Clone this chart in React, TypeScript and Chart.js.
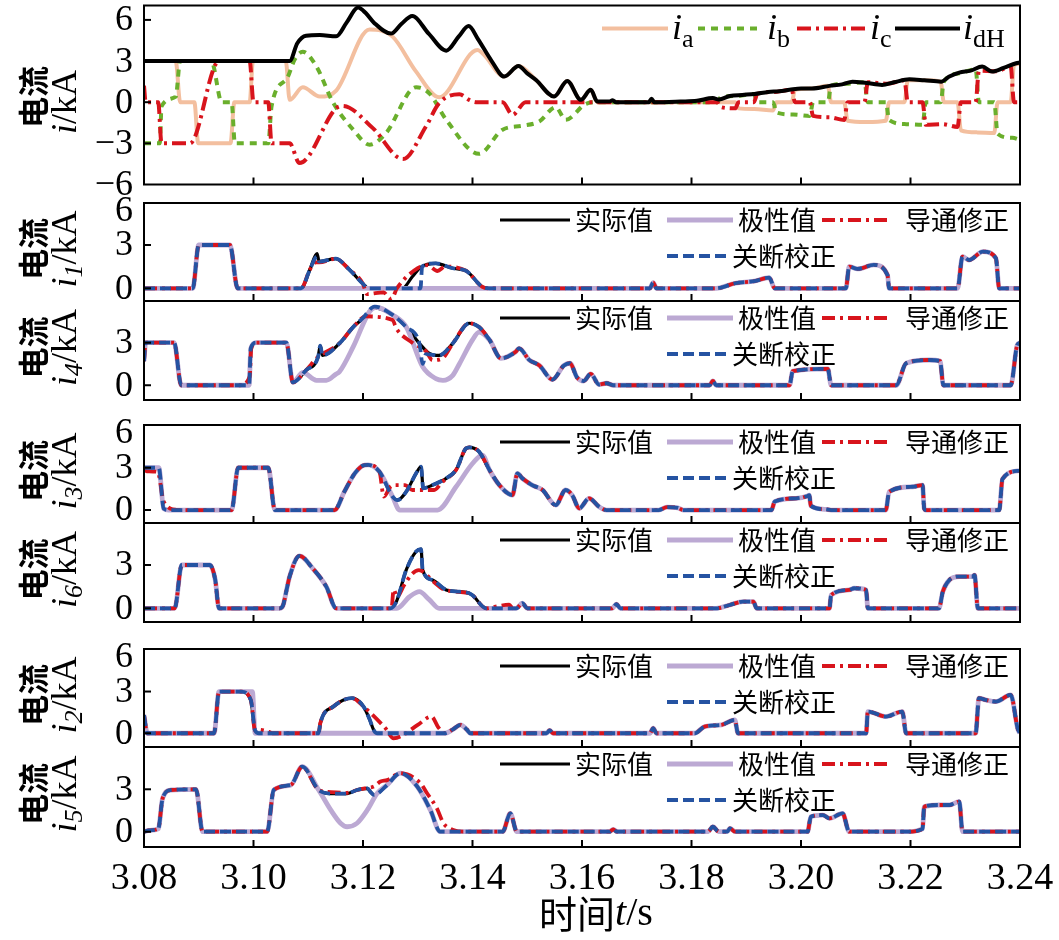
import React, { useEffect, useRef } from "react";
import { Chart, registerables } from "chart.js";
Chart.register(...registerables);

type Pt = [number, number];

const SERIF = '"Liberation Serif", "Times New Roman", serif';
const CJK = '"Noto Sans CJK SC", sans-serif';

// ---------- axis ----------
const xTicks = [3.08, 3.1, 3.12, 3.14, 3.16, 3.18, 3.2, 3.22, 3.24];
const xTickLabels = ["3.08", "3.10", "3.12", "3.14", "3.16", "3.18", "3.20", "3.22", "3.24"];
const topYTicks = [6, 3, 0, -3, -6];
const topYTickLabels = ["6", "3", "0", "\u22123", "\u22126"];
const yTicksFull = [6, 3, 0];
const yTicksShort = [3, 0];

// ---------- top panel: ia, ib, ic, idH ----------
const iaData: Pt[] = [[3.08,3],[3.0858,3],[3.0866,0],[3.0892,0],[3.0899,-3],[3.0958,-3],[3.0965,0],[3.0993,0],[3.0999,3],[3.1059,3],[3.1066,0.17],[3.109,1.09],[3.1121,0.41],[3.1151,0.85],[3.1212,5.3],[3.1254,4.78],[3.1297,2.23],[3.1339,0.36],[3.1409,3.8],[3.142,3.5],[3.1458,1.87],[3.1484,2.64],[3.1516,1.62],[3.1549,0.41],[3.1573,1.55],[3.1598,0.17],[3.1616,0.9],[3.1628,0],[3.188,0],[3.1886,-0.45],[3.1915,-0.5],[3.1949,-0.6],[3.1955,0],[3.1983,0],[3.1989,0.9],[3.2019,1.0],[3.2049,1.2],[3.2055,0],[3.2079,0],[3.2085,-1.35],[3.2119,-1.45],[3.2155,-1.35],[3.2161,0],[3.2189,0],[3.2195,1.6],[3.2225,1.6],[3.2255,1.5],[3.2261,0],[3.2286,0],[3.2292,-2.05],[3.2322,-2.2],[3.2353,-2.25],[3.2359,0],[3.2383,0],[3.2389,2.7],[3.24,2.8]];
const ibData: Pt[] = [[3.08,-3],[3.0829,-3],[3.0832,-0.3],[3.0858,0.4],[3.0866,3],[3.0923,3],[3.0942,0],[3.096,0],[3.0966,-3],[3.1027,-3],[3.1033,-0.3],[3.1062,1.8],[3.1075,3.1],[3.109,3.68],[3.1115,2.6],[3.1145,0],[3.1182,-2.0],[3.1212,-3.1],[3.1242,-2.25],[3.1297,1.09],[3.1321,0.65],[3.1352,-1.28],[3.1412,-3.76],[3.1455,-2.0],[3.1491,-1.72],[3.1522,-1.4],[3.1552,-0.36],[3.157,-1.28],[3.1607,-0.12],[3.1628,0],[3.1847,0],[3.1853,0.35],[3.1883,0.45],[3.1914,0.6],[3.192,0],[3.1949,0],[3.1955,-0.75],[3.1986,-0.9],[3.2016,-1.0],[3.2022,0],[3.2049,0],[3.2055,1.2],[3.2082,1.35],[3.2116,1.45],[3.2122,0],[3.2155,0],[3.2161,-1.3],[3.2192,-1.6],[3.2222,-1.65],[3.2228,0],[3.2255,0],[3.2261,1.5],[3.2289,2.1],[3.2319,2.4],[3.2325,0],[3.2353,0],[3.2359,-2.3],[3.2386,-2.6],[3.24,-2.75]];
const icData: Pt[] = [[3.08,1.2],[3.0803,0],[3.0826,0],[3.0832,-3],[3.0884,-3],[3.0937,3],[3.0993,3],[3.1,0],[3.1027,0],[3.1033,-3],[3.1066,-3],[3.1084,-4.44],[3.1151,-0.44],[3.1163,-0.27],[3.1218,-1.89],[3.1273,-4.15],[3.1315,-1.77],[3.1339,-0.07],[3.1376,0.58],[3.1394,0.17],[3.1406,0],[3.1455,0],[3.1473,-0.92],[3.1497,0],[3.1847,0],[3.1853,-0.35],[3.188,-0.45],[3.1886,0],[3.1914,0],[3.192,0.6],[3.1952,0.75],[3.1983,0.9],[3.1989,0],[3.2016,0],[3.2022,-1.0],[3.2052,-1.1],[3.2079,-1.3],[3.2085,0],[3.2116,0],[3.2122,1.45],[3.2158,1.35],[3.2189,1.6],[3.2195,0],[3.2222,0],[3.2228,-1.65],[3.2258,-1.6],[3.2286,-1.8],[3.2292,0],[3.2319,0],[3.2325,2.3],[3.2356,2.25],[3.2383,2.6],[3.2389,0],[3.24,0]];
const idHData: Pt[] = [[3.08,3],[3.1066,3],[3.108,4.3],[3.1096,4.85],[3.1121,4.9],[3.1151,4.8],[3.117,5.8],[3.1191,6.9],[3.1205,6.5],[3.122,5.8],[3.1251,5.0],[3.127,5.7],[3.129,6.28],[3.132,5.0],[3.1352,3.76],[3.1375,4.8],[3.1393,5.55],[3.141,4.6],[3.1435,3.0],[3.1458,1.87],[3.1484,2.64],[3.15,2.1],[3.1516,1.62],[3.1549,0.41],[3.1573,1.55],[3.1598,0.17],[3.1616,0.9],[3.1628,0.05],[3.165,0.05],[3.1656,0.15],[3.1662,0],[3.1722,0],[3.1727,0.25],[3.1732,0],[3.178,0.05],[3.181,0.1],[3.1839,0.3],[3.185,0.2],[3.187,0.45],[3.1893,0.53],[3.1915,0.6],[3.194,0.75],[3.196,0.8],[3.1979,0.9],[3.2,1.0],[3.202,1.0],[3.2052,1.19],[3.2075,1.3],[3.2094,1.5],[3.212,1.4],[3.2148,1.26],[3.217,1.45],[3.2198,1.67],[3.2225,1.6],[3.2256,1.5],[3.227,1.85],[3.2289,2.16],[3.231,2.3],[3.2331,2.6],[3.2349,2.23],[3.237,2.5],[3.2393,2.84],[3.24,2.9]];

// ---------- i1 ----------
const i1Head: Pt[] = [[3.08,0],[3.0889,0],[3.09,3],[3.0957,3],[3.0971,0],[3.1087,0]];
const i1ActMid: Pt[] = [[3.1103,1.3],[3.1116,2.4],[3.112,1.85],[3.115,2.05],[3.1175,1.3],[3.12,0.3],[3.121,0],[3.1272,0],[3.129,0.8],[3.1305,1.45],[3.1333,1.73],[3.1364,1.39],[3.1388,1.22],[3.1418,0.1]];
const i1OnMid: Pt[] = [[3.1103,1.3],[3.1114,1.8],[3.112,1.8],[3.115,2.05],[3.1175,1.3],[3.12,0.3],[3.1207,-0.4],[3.1238,-0.28],[3.1244,-0.5],[3.1252,-0.75],[3.1262,0],[3.13,1.4],[3.1318,1.6],[3.1336,1.2],[3.135,1.5],[3.1388,1.22],[3.1418,0.1]];
const i1OffMid: Pt[] = [[3.1103,1.3],[3.1116,2.2],[3.112,1.85],[3.115,2.05],[3.1175,1.3],[3.12,0.3],[3.121,0],[3.1305,0],[3.1308,1.5],[3.1333,1.73],[3.1364,1.39],[3.1388,1.22],[3.1418,0.1]];
const i1Tail: Pt[] = [[3.1431,0],[3.1724,0],[3.173,0.4],[3.1736,0],[3.1845,0],[3.188,0.35],[3.1915,0.5],[3.1942,0.74],[3.1952,0],[3.2082,0],[3.2088,1.5],[3.2103,1.34],[3.2133,1.62],[3.2158,0.92],[3.2161,0],[3.2286,0],[3.2295,2.2],[3.2307,1.96],[3.2332,2.54],[3.2356,2.08],[3.2362,0],[3.24,0]];

// ---------- i4 ----------
const i4Head: Pt[] = [[3.08,1.7],[3.0803,3],[3.0855,3],[3.0868,0],[3.0975,0]];
const i4ActMid: Pt[] = [[3.0992,0],[3.0995,2.6],[3.1005,3],[3.106,3],[3.1072,0.2],[3.1096,1.06],[3.1118,2.0],[3.1122,2.8],[3.1126,2.1],[3.1157,2.95],[3.1182,4.1],[3.12,4.7],[3.1221,5.45],[3.1254,4.96],[3.1279,4.1],[3.1303,2.95],[3.1321,2.25],[3.1339,2.1],[3.1364,2.95],[3.1394,4.37],[3.1412,4.1]];
const i4PolMid: Pt[] = [[3.0992,0],[3.0995,2.6],[3.1005,3],[3.106,3],[3.1072,0.2],[3.109,0.9],[3.1115,0.35],[3.1133,0.35],[3.1151,0.8],[3.1157,0.95],[3.1182,2.7],[3.1212,5.2],[3.1224,5.5],[3.1254,4.96],[3.1279,4.1],[3.1309,1.3],[3.1333,0.47],[3.1346,0.35],[3.1364,0.7],[3.1376,1.5],[3.14,3.2],[3.1412,3.75]];
const i4OnMid: Pt[] = [[3.0993,0.6],[3.0996,2.6],[3.1005,3],[3.106,3],[3.1072,0.2],[3.1096,1.06],[3.1118,2.0],[3.1126,2.2],[3.1157,2.95],[3.1182,4.1],[3.1205,4.85],[3.1254,4.6],[3.1261,4.0],[3.129,3.0],[3.1315,2.4],[3.1327,1.77],[3.1345,1.9],[3.1364,2.95],[3.1394,4.37],[3.1412,4.1]];
const i4OffMid: Pt[] = [[3.0992,0],[3.0995,2.6],[3.1005,3],[3.106,3],[3.1072,0.2],[3.1096,1.06],[3.1118,2.0],[3.1122,2.8],[3.1126,2.1],[3.1157,2.95],[3.1182,4.1],[3.12,4.75],[3.1221,5.55],[3.1254,4.96],[3.1279,4.1],[3.1303,2.95],[3.1309,1.5],[3.1315,2.2],[3.1339,2.1],[3.1364,2.95],[3.1394,4.37],[3.1412,4.1]];
const i4Tail: Pt[] = [[3.1431,3.2],[3.1452,1.9],[3.1479,2.36],[3.1485,2.6],[3.1504,1.77],[3.1522,1.4],[3.1546,0.4],[3.1567,1.4],[3.1578,1.55],[3.1591,0.55],[3.1603,0.3],[3.1616,0.8],[3.1631,0.05],[3.1645,0.14],[3.1657,0],[3.1833,0],[3.1839,0.3],[3.1845,0],[3.1979,0],[3.1985,1.0],[3.2049,1.15],[3.2055,0],[3.2174,0],[3.2192,1.55],[3.2234,1.78],[3.2254,1.7],[3.226,0],[3.2383,0],[3.2395,2.84],[3.24,3.0]];

// ---------- i3 ----------
const i3Head: Pt[] = [[3.08,3],[3.0827,3],[3.0836,0.1],[3.0845,0]];
const i3OnHead: Pt[] = [[3.08,2.9],[3.0805,2.75],[3.0825,2.7],[3.0836,0.6],[3.0862,0]];
const i3Pulse: Pt[] = [[3.096,0],[3.0972,3],[3.1027,3],[3.1039,0],[3.1148,0],[3.1166,1.3],[3.1185,2.6],[3.1203,3.19],[3.1209,3.2],[3.123,2.72]];
const i3ActMid: Pt[] = [[3.1254,0.95],[3.1263,0.7],[3.1279,1.3],[3.1297,2.6],[3.1306,3.07],[3.131,1.54],[3.1327,1.77],[3.1352,2.25],[3.137,2.84],[3.1388,4.37],[3.1394,4.45],[3.1412,4.14]];
const i3PolMid: Pt[] = [[3.1254,0.95],[3.1267,0],[3.1336,0],[3.137,1.65],[3.14,3.3],[3.1418,3.9]];
const i3OnMid: Pt[] = [[3.1238,0.95],[3.125,1.65],[3.1259,1.77],[3.1277,1.77],[3.129,1.42],[3.133,1.42],[3.1345,2.0],[3.137,2.84],[3.1388,4.37],[3.1394,4.45],[3.1412,4.14]];
const i3Tail: Pt[] = [[3.1431,2.84],[3.1449,1.77],[3.1473,1.06],[3.1482,2.6],[3.1491,2.25],[3.1509,1.77],[3.1528,1.42],[3.1552,0.35],[3.157,1.42],[3.1582,1.06],[3.1595,0.12],[3.1613,0.83],[3.1631,0.24],[3.1645,0],[3.174,0],[3.1755,0.2],[3.1775,0.15],[3.1785,0],[3.1946,0],[3.1952,0.6],[3.1991,0.83],[3.2012,1.0],[3.2015,1.06],[3.2018,0.3],[3.2045,0.05],[3.2055,0],[3.2155,0],[3.2161,1.3],[3.2204,1.65],[3.2222,1.77],[3.2225,0.12],[3.2228,0],[3.2362,0],[3.2368,2.2],[3.24,2.8]];

// ---------- i6 ----------
const i6Head: Pt[] = [[3.08,0],[3.0856,0],[3.0869,3],[3.092,3],[3.093,2.0],[3.0937,0]];
const i6Hump: Pt[] = [[3.1048,0],[3.1054,0.2],[3.106,1.2],[3.1066,2.2],[3.1084,3.63],[3.1108,2.77],[3.1133,1.5],[3.1151,0]];
const i6ActMid: Pt[] = [[3.125,0],[3.1261,0.46],[3.1279,2.66],[3.1297,3.93],[3.1306,4.1],[3.1309,2.66],[3.1327,1.96],[3.1352,1.27],[3.1376,1.15],[3.1394,1.04],[3.14,0.9],[3.1425,0]];
const i6PolMid: Pt[] = [[3.1262,0],[3.1285,0.8],[3.1303,1.15],[3.1321,0.6],[3.1339,0]];
const i6OnMid: Pt[] = [[3.1252,0],[3.1256,1.3],[3.1262,0.8],[3.1275,1.6],[3.129,2.4],[3.1302,2.65],[3.133,1.8],[3.1345,1.35],[3.137,1.15],[3.1394,1.04],[3.14,0.9],[3.1425,0],[3.144,0.1],[3.1467,0.25],[3.1474,0]];
const i6Tail: Pt[] = [[3.148,0],[3.1491,0.35],[3.15,0],[3.1655,0],[3.1663,0.28],[3.167,0],[3.1845,0],[3.187,0.23],[3.1894,0.46],[3.1913,0.46],[3.1919,0],[3.2052,0],[3.2055,0.92],[3.2088,1.27],[3.2097,1.39],[3.2119,1.27],[3.2122,0],[3.2252,0],[3.2259,1.15],[3.2271,1.96],[3.2289,2.2],[3.2313,2.2],[3.2317,2.3],[3.2323,0],[3.24,0]];

// ---------- i2 ----------
const i2Head: Pt[] = [[3.08,1.3],[3.0806,0],[3.0928,0],[3.0937,3],[3.0977,3]];
const i2ActMid: Pt[] = [[3.0995,2.4],[3.1003,0.2],[3.101,0],[3.1119,0],[3.1122,0.72],[3.1146,1.92],[3.118,2.52],[3.1201,1.92],[3.1212,1.0],[3.122,0.2],[3.1226,0]];
const i2PolMid: Pt[] = [[3.0998,3],[3.1003,0]];
const i2OnMid: Pt[] = [[3.0995,2.4],[3.1003,0.2],[3.101,0.25],[3.1028,0.1],[3.1035,0],[3.1119,0],[3.1122,0.72],[3.1146,1.92],[3.118,2.52],[3.1201,1.92],[3.1241,0.36],[3.1256,-0.36],[3.127,-0.2],[3.13,0.6],[3.1325,1.2],[3.1338,0.4]];
const i2Tail: Pt[] = [[3.135,0],[3.1365,0.3],[3.1378,0.6],[3.139,0.25],[3.1396,0],[3.1535,0],[3.1541,0.2],[3.1547,0],[3.1724,0],[3.173,0.36],[3.1736,0],[3.1806,0],[3.1824,0.48],[3.1855,0.6],[3.1879,0.96],[3.1885,0],[3.2119,0],[3.2122,1.56],[3.2155,1.2],[3.2185,1.56],[3.2192,0],[3.2319,0],[3.2325,2.52],[3.2337,2.4],[3.2356,2.28],[3.2383,2.76],[3.2396,0.3],[3.24,0]];

// ---------- i5 ----------
const i5Head: Pt[] = [[3.08,0],[3.0809,0.1],[3.0826,0.2],[3.0834,2.36],[3.0849,2.95],[3.0895,3],[3.0907,0],[3.1025,0],[3.1037,2.95],[3.1068,3.3],[3.1089,4.6],[3.1119,2.95]];
const i5ActMid: Pt[] = [[3.1141,2.7],[3.1171,2.7],[3.1189,2.95],[3.1208,3.07],[3.1214,2.8],[3.122,2.6],[3.1244,3.3],[3.1268,4.14],[3.1299,3.2],[3.1323,1.54],[3.1341,0]];
const i5PolMid: Pt[] = [[3.1141,1.54],[3.1159,0.6],[3.1171,0.35],[3.1189,0.6],[3.1208,1.54],[3.1226,2.72],[3.1244,3.3],[3.1268,4.14],[3.1299,3.2],[3.1323,1.54],[3.1341,0]];
const i5OnMid: Pt[] = [[3.1141,2.8],[3.1171,2.75],[3.1189,2.95],[3.1208,3.1],[3.122,3.2],[3.1232,3.55],[3.1244,3.65],[3.1268,4.14],[3.1305,3.43],[3.1317,2.72],[3.1335,1.65],[3.1347,0.6],[3.1365,0.12],[3.1384,0]];
const i5Tail: Pt[] = [[3.1455,0],[3.1469,1.3],[3.1481,0],[3.165,0],[3.1657,0.17],[3.1664,0],[3.183,0],[3.1839,0.35],[3.185,0],[3.1865,0],[3.187,0.24],[3.188,0],[3.2012,0],[3.2018,1.06],[3.204,1.18],[3.2052,0.95],[3.2076,1.3],[3.2088,0],[3.2192,0],[3.2222,0.2],[3.2225,1.77],[3.2252,1.89],[3.2271,1.89],[3.2289,2.13],[3.2295,0],[3.24,0]];

// ---------- styles ----------
const PEACH = "#F3BF9F";
const GREEN = "#6AAF2C";
const RED = "#D8141C";
const LAV = "#BCA9D3";
const BLUE = "#2553A2";
const DASH_DOT = [14, 5, 3, 5];
const DASH_DOT_S = [13, 5, 3, 5];

const PLOT_LEFT = 144;
const PLOT_RIGHT = 1020;
const W = 1059;
const H = 940;

interface Series { data: Pt[]; color: string; width: number; dash: number[]; order: number }
interface Panel {
  top: number; bottom: number; min: number; max: number;
  yTicks: number[]; yLabels: string[];
  sub: string; kind: "top" | "lower"; bottomAxis: boolean;
  series: Series[];
}

function lowerSeries(act: Pt[], pol: Pt[], on: Pt[], off: Pt[]): Series[] {
  return [
    { data: act, color: "#000", width: 3.2, dash: [], order: 4 },
    { data: pol, color: LAV, width: 4.8, dash: [], order: 3 },
    { data: on, color: RED, width: 3.8, dash: DASH_DOT_S, order: 2 },
    { data: off, color: BLUE, width: 3.8, dash: [11, 5], order: 1 },
  ];
}

const PANELS: Panel[] = [
  {
    top: 5.5, bottom: 184.5, min: -6, max: 7.05, yTicks: topYTicks, yLabels: topYTickLabels,
    sub: "", kind: "top", bottomAxis: false,
    series: [
      { data: iaData, color: PEACH, width: 4, dash: [], order: 4 },
      { data: ibData, color: GREEN, width: 4, dash: [7, 6], order: 3 },
      { data: icData, color: RED, width: 4, dash: DASH_DOT, order: 2 },
      { data: idHData, color: "#000", width: 4, dash: [], order: 1 },
    ],
  },
  {
    top: 203, bottom: 301, min: -0.88, max: 5.91, yTicks: yTicksFull, yLabels: ["6", "3", "0"],
    sub: "1", kind: "lower", bottomAxis: false,
    series: lowerSeries([...i1Head, ...i1ActMid, ...i1Tail], [...i1Head, ...i1Tail], [...i1Head, ...i1OnMid, ...i1Tail], [...i1Head, ...i1OffMid, ...i1Tail]),
  },
  {
    top: 301, bottom: 400, min: -1.04, max: 5.94, yTicks: yTicksShort, yLabels: ["3", "0"],
    sub: "4", kind: "lower", bottomAxis: false,
    series: lowerSeries([...i4Head, ...i4ActMid, ...i4Tail], [...i4Head, ...i4PolMid, ...i4Tail], [...i4Head, ...i4OnMid, ...i4Tail], [...i4Head, ...i4OffMid, ...i4Tail]),
  },
  {
    top: 425, bottom: 523, min: -0.92, max: 6.03, yTicks: yTicksFull, yLabels: ["6", "3", "0"],
    sub: "3", kind: "lower", bottomAxis: false,
    series: lowerSeries([...i3Head, ...i3Pulse, ...i3ActMid, ...i3Tail], [...i3Head, ...i3Pulse, ...i3PolMid, ...i3Tail], [...i3OnHead, ...i3Pulse, ...i3OnMid, ...i3Tail], [...i3Head, ...i3Pulse, ...i3ActMid, ...i3Tail]),
  },
  {
    top: 523, bottom: 622, min: -0.95, max: 5.91, yTicks: yTicksShort, yLabels: ["3", "0"],
    sub: "6", kind: "lower", bottomAxis: false,
    series: lowerSeries([...i6Head, ...i6Hump, ...i6ActMid, ...i6Tail], [...i6Head, ...i6Hump, ...i6PolMid, ...i6Tail], [...i6Head, ...i6Hump, ...i6OnMid, ...i6Tail], [...i6Head, ...i6Hump, ...i6ActMid, ...i6Tail]),
  },
  {
    top: 649, bottom: 747, min: -0.99, max: 6.06, yTicks: yTicksFull, yLabels: ["6", "3", "0"],
    sub: "2", kind: "lower", bottomAxis: false,
    series: lowerSeries([...i2Head, ...i2ActMid, ...i2Tail], [...i2Head, ...i2PolMid, ...i2Tail], [...i2Head, ...i2OnMid, ...i2Tail], [...i2Head, ...i2ActMid, ...i2Tail]),
  },
  {
    top: 747, bottom: 847, min: -1.08, max: 5.99, yTicks: yTicksShort, yLabels: ["3", "0"],
    sub: "5", kind: "lower", bottomAxis: true,
    series: lowerSeries([...i5Head, ...i5ActMid, ...i5Tail], [...i5Head, ...i5PolMid, ...i5Tail], [...i5Head, ...i5OnMid, ...i5Tail], [...i5Head, ...i5ActMid, ...i5Tail]),
  },
];

type Piece = { t: string; f: string; dy?: number };

function piecesWidth(ctx: CanvasRenderingContext2D, ps: Piece[]) {
  let w = 0;
  for (const p of ps) { ctx.font = p.f; w += ctx.measureText(p.t).width; }
  return w;
}
function drawPieces(ctx: CanvasRenderingContext2D, ps: Piece[], x: number, y: number, center: boolean) {
  let cx = center ? x - piecesWidth(ctx, ps) / 2 : x;
  ctx.textAlign = "left";
  for (const p of ps) {
    ctx.font = p.f;
    ctx.fillText(p.t, cx, y + (p.dy || 0));
    cx += ctx.measureText(p.t).width;
  }
}
function seg(ctx: CanvasRenderingContext2D, x0: number, y0: number, x1: number, y1: number) {
  ctx.beginPath(); ctx.moveTo(x0, y0); ctx.lineTo(x1, y1); ctx.stroke();
}

function makeDecor(p: Panel) {
  return {
    id: "decor",
    afterDraw(chart: any) {
      const ctx: CanvasRenderingContext2D = chart.ctx;
      const a = chart.chartArea;
      const xs = chart.scales.x;
      const ys = chart.scales.y;
      ctx.save();
      ctx.setLineDash([]);
      ctx.strokeStyle = "#000";
      ctx.fillStyle = "#000";
      ctx.lineWidth = 2;
      ctx.strokeRect(a.left, a.top, a.right - a.left, a.bottom - a.top);
      // bottom inner ticks
      for (const t of xTicks) {
        const px = xs.getPixelForValue(t);
        if (px > a.left + 2 && px < a.right - 2) seg(ctx, px, a.bottom, px, a.bottom - 7);
      }
      // y ticks + labels
      ctx.textBaseline = "middle";
      p.yTicks.forEach((v, i) => {
        const py = ys.getPixelForValue(v);
        if (py > a.top + 2 && py < a.bottom - 2) seg(ctx, a.left, py, a.left + 7, py);
        const ly = Math.max(py, a.top + 8);
        ctx.font = `36px ${SERIF}`;
        ctx.textAlign = "right";
        ctx.fillText(p.yLabels[i], a.left - 11, ly + 1);
      });
      // y title
      const cy = (a.top + a.bottom) / 2 - (p.kind === "top" ? -2 : 3);
      ctx.save();
      ctx.translate(33, cy);
      ctx.rotate(-Math.PI / 2);
      ctx.textBaseline = "middle";
      ctx.textAlign = "center";
      ctx.font = `bold 31px ${CJK}`;
      ctx.fillText("电流", 0, 0);
      ctx.restore();
      ctx.save();
      ctx.translate(64, cy + (p.kind === "top" ? 5 : 0));
      ctx.rotate(-Math.PI / 2);
      ctx.textBaseline = "alphabetic";
      const lab: Piece[] = [{ t: "i", f: `italic 36px ${SERIF}` }];
      if (p.sub) lab.push({ t: p.sub, f: `italic 26px ${SERIF}`, dy: 6 });
      lab.push({ t: "/kA", f: `36px ${SERIF}` });
      drawPieces(ctx, lab, 0, 12, true);
      ctx.restore();

      // legends
      if (p.kind === "top") {
        const ly = a.top + 23;
        const items: [number, number, number, string][] = [
          [602, 668, 672, "a"], [698, 763, 767, "b"], [797, 867, 870, "c"], [895, 960, 963, "dH"],
        ];
        items.forEach((it, k) => {
          const s = p.series[k];
          ctx.strokeStyle = s.color; ctx.lineWidth = s.width; ctx.setLineDash(s.dash);
          seg(ctx, it[0], ly, it[1], ly);
          ctx.setLineDash([]);
          ctx.fillStyle = "#000";
          ctx.textBaseline = "alphabetic";
          drawPieces(ctx, [{ t: "i", f: `italic 36px ${SERIF}` }, { t: it[3], f: `26px ${SERIF}`, dy: 8 }], it[2], ly + 10, false);
        });
      } else {
        const r1 = a.top + 17;
        const r2 = a.top + 53;
        const items: [number, number, number, number, string, number][] = [
          [500, 570, 575, r1, "实际值", 0], [667, 733, 738, r1, "极性值", 1],
          [822, 892, 905, r1, "导通修正", 2], [667, 728, 732, r2, "关断校正", 3],
        ];
        for (const it of items) {
          const s = p.series[it[5]];
          ctx.strokeStyle = s.color; ctx.lineWidth = s.width; ctx.setLineDash(s.dash);
          seg(ctx, it[0], it[3], it[1], it[3]);
          ctx.setLineDash([]);
          ctx.fillStyle = "#000";
          ctx.font = `26px ${CJK}`;
          ctx.textAlign = "left";
          ctx.textBaseline = "middle";
          ctx.fillText(it[4], it[2], it[3]);
        }
      }

      // bottom x axis labels + title
      if (p.bottomAxis) {
        ctx.fillStyle = "#000";
        ctx.font = `38px ${SERIF}`;
        ctx.textAlign = "center";
        ctx.textBaseline = "middle";
        xTicks.forEach((t, i) => ctx.fillText(xTickLabels[i], xs.getPixelForValue(t), 879));
        ctx.textBaseline = "middle";
        drawPieces(ctx, [
          { t: "时间", f: `38px ${CJK}` },
          { t: "t", f: `italic 40px ${SERIF}` },
          { t: "/s", f: `40px ${SERIF}` },
        ], 596, 914, true);
      }
      ctx.restore();
    },
  };
}

function buildConfig(p: Panel): any {
  return {
    type: "line",
    data: {
      datasets: p.series.map((s) => ({
        data: s.data.map(([x, y]) => ({ x, y })),
        borderColor: s.color,
        backgroundColor: s.color,
        borderWidth: s.width,
        borderDash: s.dash,
        pointRadius: 0,
        fill: false,
        cubicInterpolationMode: "monotone",
        borderCapStyle: "butt",
        borderJoinStyle: "round",
        order: s.order,
      })),
    },
    options: {
      animation: false,
      responsive: false,
      maintainAspectRatio: false,
      devicePixelRatio: 1,
      events: [],
      layout: { padding: { left: PLOT_LEFT, right: W - PLOT_RIGHT, top: p.top, bottom: H - p.bottom } },
      scales: {
        x: { type: "linear", min: 3.08, max: 3.24, display: false },
        y: { type: "linear", min: p.min, max: p.max, display: false },
      },
      plugins: { legend: { display: false }, tooltip: { enabled: false }, title: { display: false } },
    },
    plugins: [makeDecor(p)],
  };
}

export default function App() {
  const refs = useRef<(HTMLCanvasElement | null)[]>([]);
  useEffect(() => {
    const charts = PANELS.map((p, i) => new Chart(refs.current[i] as HTMLCanvasElement, buildConfig(p)));
    return () => charts.forEach((c) => c.destroy());
  }, []);
  return (
    <div style={{ position: "absolute", left: 0, top: 0, width: W, height: H, background: "#fff", overflow: "hidden" }}>
      {PANELS.map((_, i) => (
        <canvas
          key={i}
          ref={(el) => { refs.current[i] = el; }}
          width={W}
          height={H}
          style={{ position: "absolute", left: 0, top: 0, width: W, height: H }}
        />
      ))}
    </div>
  );
}
